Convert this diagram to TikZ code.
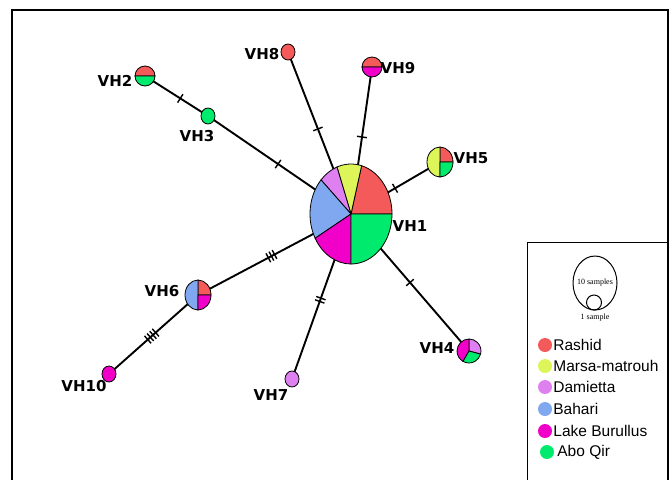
\documentclass[tikz,border=0pt]{standalone}
\usepackage{fontspec}
\setmainfont{Liberation Sans}
\newfontfamily\hapfont{DejaVu Sans}
\newfontfamily\keyfont{Liberation Serif}
\usepackage{tikz}
\usetikzlibrary{shapes.geometric, decorations.markings, positioning}
\definecolor{rashid}{RGB}{245,90,90}
\definecolor{marsa}{RGB}{222,245,90}
\definecolor{damietta}{RGB}{222,128,240}
\definecolor{bahari}{RGB}{128,168,240}
\definecolor{burullus}{RGB}{240,0,200}
\definecolor{aboqir}{RGB}{0,235,110}
\tikzstyle{hap} = [ellipse, inner sep=0pt, outer sep=0pt]
\tikzstyle{hapname} = [font=\hapfont\bfseries\fontsize{15}{17}\selectfont, inner sep=0pt]
\tikzstyle{link} = [line width=1.9pt]
\tikzstyle{keydot} = [circle, inner sep=0pt, minimum size=14pt]
\tikzstyle{keytext} = [font=\fontsize{15.5}{17}\selectfont, anchor=west, inner sep=0pt]
\tikzstyle{sizetext} = [font=\keyfont\fontsize{8}{9}\selectfont, inner sep=0pt]
\tikzset{
    mut/.style 2 args={postaction={decorate, decoration={markings,
        mark=at position #2 with {\foreach \tk in {1,...,#1}
            {\draw[line width=1.4pt] ({(\tk-(#1+1)/2)*3.5pt},-5pt) -- ++(0pt,10pt);}}}}},
}
% one sector of a pie: centre, rx, ry, from, to, colour
\newcommand{\wedgepart}[6]{%
    \filldraw[fill=#6, draw=black, line width=0.8pt] (#1) -- ++({cos(#4)*#2pt},{sin(#4)*#3pt})
        arc[start angle=#4, end angle=#5, x radius=#2pt, y radius=#3pt] -- cycle;}
% a pie of one colour
\newcommand{\wholepart}[4]{%
    \filldraw[fill=#4, draw=black, line width=0.8pt] (#1) ellipse[x radius=#2pt, y radius=#3pt];}

\begin{document}
\begin{tikzpicture}[x=1pt, y=-1pt]
    \useasboundingbox (0,0) rectangle (672,480);
    \draw[line width=2.5pt] (12,480) -- (12,10) -- (668,10) -- (668,480);

    % haplotypes
    \node[hap, minimum width=82pt, minimum height=100pt] (vh1) at (351,214) {};
    \node[hap, minimum size=20pt] (vh2) at (145,76) {};
    \node[hap, minimum size=15pt] (vh3) at (208,116) {};
    \node[hap, minimum size=24pt] (vh4) at (469,351) {};
    \node[hap, minimum width=26pt, minimum height=30pt] (vh5) at (440,162) {};
    \node[hap, minimum width=26pt, minimum height=30pt] (vh6) at (198,295) {};
    \node[hap, minimum size=15pt] (vh7) at (292,379) {};
    \node[hap, minimum size=15pt] (vh8) at (288,52) {};
    \node[hap, minimum size=20pt] (vh9) at (372,67) {};
    \node[hap, minimum size=15pt] (vh10) at (109,374) {};

    % links and mutation steps
    \draw[link, mut={1}{0.56}] (vh2.center) -- (vh3.center);
    \draw[link, mut={1}{0.49}] (vh3.center) -- (vh1.center);
    \draw[link, mut={1}{0.475}] (vh8.center) -- (vh1.center);
    \draw[link, mut={1}{0.476}] (vh9.center) -- (vh1.center);
    \draw[link, mut={1}{0.505}] (vh5.center) -- (vh1.center);
    \draw[link, mut={1}{0.5}] (vh1.center) -- (vh4.center);
    \draw[link, mut={2}{0.52}] (vh1.center) -- (vh7.center);
    \draw[link, mut={3}{0.48}] (vh6.center) -- (vh1.center);
    \draw[link, mut={4}{0.48}] (vh10.center) -- (vh6.center);

    % pies
    \wedgepart{vh1.center}{41}{50}{0}{75}{rashid}
    \wedgepart{vh1.center}{41}{50}{75}{110}{marsa}
    \wedgepart{vh1.center}{41}{50}{110}{137}{damietta}
    \wedgepart{vh1.center}{41}{50}{137}{209}{bahari}
    \wedgepart{vh1.center}{41}{50}{209}{270}{burullus}
    \wedgepart{vh1.center}{41}{50}{270}{360}{aboqir}
    \wedgepart{vh2.center}{10}{10}{0}{180}{rashid}
    \wedgepart{vh2.center}{10}{10}{180}{360}{aboqir}
    \wholepart{vh3.center}{7}{8}{aboqir}
    \wedgepart{vh4.center}{12}{12}{-15}{90}{damietta}
    \wedgepart{vh4.center}{12}{12}{90}{240}{burullus}
    \wedgepart{vh4.center}{12}{12}{240}{345}{aboqir}
    \wedgepart{vh5.center}{13}{15}{0}{90}{rashid}
    \wedgepart{vh5.center}{13}{15}{90}{270}{marsa}
    \wedgepart{vh5.center}{13}{15}{270}{360}{aboqir}
    \wedgepart{vh6.center}{13}{15}{0}{90}{rashid}
    \wedgepart{vh6.center}{13}{15}{90}{270}{bahari}
    \wedgepart{vh6.center}{13}{15}{270}{360}{burullus}
    \wholepart{vh7.center}{7}{8}{damietta}
    \wholepart{vh8.center}{7}{8}{rashid}
    \wedgepart{vh9.center}{10}{10}{0}{180}{rashid}
    \wedgepart{vh9.center}{10}{10}{180}{360}{burullus}
    \wholepart{vh10.center}{7}{8}{burullus}

    % names
    \node[hapname] (n1) at (410,226) {VH1};
    \node[hapname] (n2) at (115,81) {VH2};
    \node[hapname] (n3) at (197,136) {VH3};
    \node[hapname] (n4) at (437,348) {VH4};
    \node[hapname] (n5) at (471,158) {VH5};
    \node[hapname] (n6) at (162,291) {VH6};
    \node[hapname] (n7) at (271,395) {VH7};
    \node[hapname] (n8) at (262,54) {VH8};
    \node[hapname] (n9) at (398,68) {VH9};
    \node[hapname] (n10) at (84,386) {VH10};

    % key
    \draw[line width=1pt] (527,480) -- (527,242) -- (668,242);
    \node[draw, ellipse, line width=1pt, minimum width=44pt, minimum height=54pt, inner sep=0pt] (bigkey) at (595,283) {};
    \node[sizetext] (bigtext) at (bigkey.center) {10 samples};
    \node[draw, circle, line width=1pt, minimum size=15pt, inner sep=0pt] (smallkey) at (594,302.5) {};
    \node[sizetext] (smalltext) at (595,318) {1 sample};
    \node[keydot, fill=rashid] (krashid) at (545,345) {};
    \node[keytext] at ([xshift=1pt]krashid.east) {Rashid};
    \node[keydot, fill=marsa] (kmarsa) at (545,366) {};
    \node[keytext] at ([xshift=1pt]kmarsa.east) {Marsa-matrouh};
    \node[keydot, fill=damietta] (kdamietta) at (545,387) {};
    \node[keytext] at ([xshift=1pt]kdamietta.east) {Damietta};
    \node[keydot, fill=bahari] (kbahari) at (545,409) {};
    \node[keytext] at ([xshift=1pt]kbahari.east) {Bahari};
    \node[keydot, fill=burullus] (kburullus) at (545,431) {};
    \node[keytext] at ([xshift=1pt]kburullus.east) {Lake Burullus};
    \node[keydot, fill=aboqir] (kaboqir) at (547,452) {};
    \node[keytext] at ([xshift=3pt]kaboqir.east) {Abo Qir};
\end{tikzpicture}
\end{document}
